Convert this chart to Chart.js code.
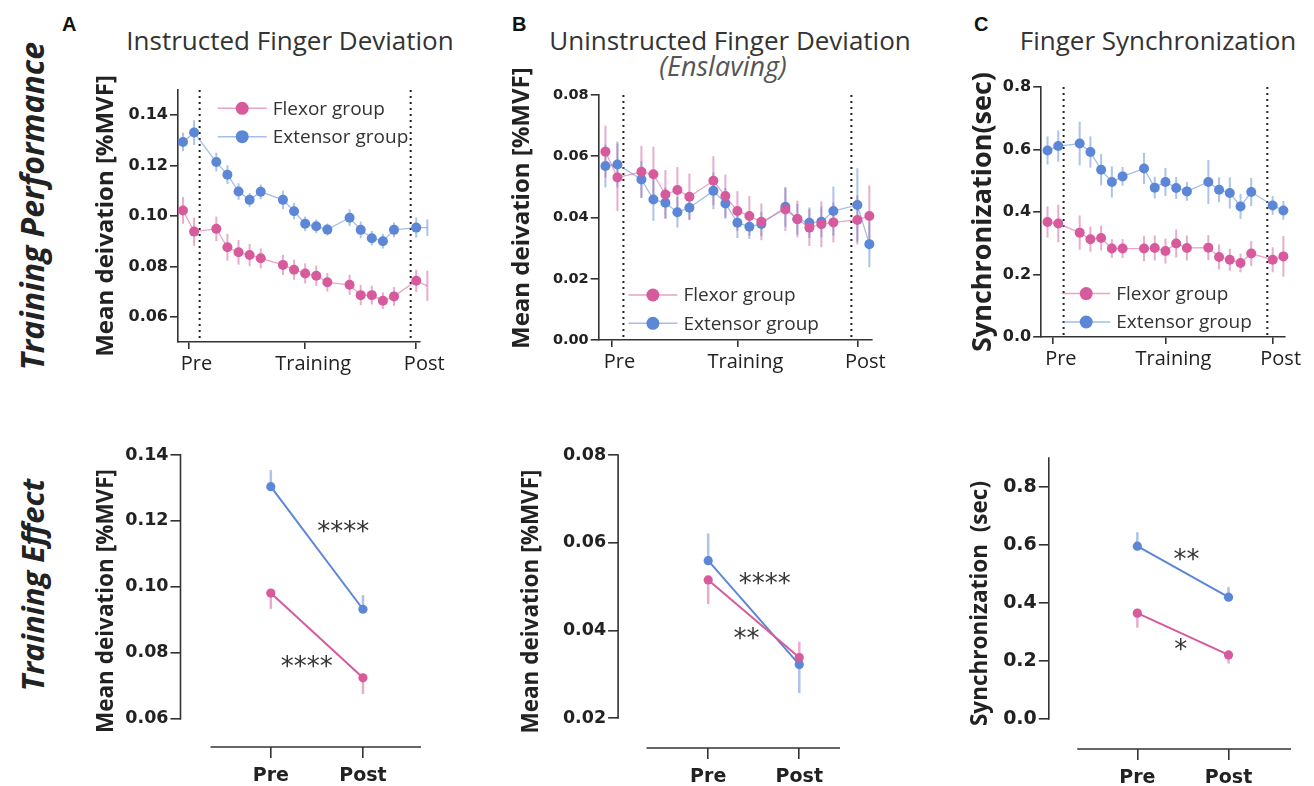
<!DOCTYPE html>
<html><head><meta charset="utf-8">
<script src="https://cdn.jsdelivr.net/npm/chart.js@4.4.1/dist/chart.umd.min.js"></script>
<style>
html,body{margin:0;padding:0;background:#fff;}
body{width:1314px;height:786px;position:relative;overflow:hidden;}
.t{position:absolute;white-space:nowrap;line-height:1;color:#333;}
.ttl{font-family:'Open Sans';font-size:26px;transform:translateX(-50%);}
.lt{font-family:'Liberation Sans';font-weight:700;font-size:20px;color:#111;}
.row{font-family:'Open Sans';font-style:italic;font-weight:700;font-size:31px;transform:translate(-50%,-50%) rotate(-90deg);color:#222;}
canvas{position:absolute;}
</style></head><body>
<div class="t lt" style="left:62px;top:14px">A</div>
<div class="t lt" style="left:512px;top:14px">B</div>
<div class="t lt" style="left:974px;top:14px">C</div>
<div class="t ttl" style="left:290px;top:27px">Instructed Finger Deviation</div>
<div class="t ttl" style="left:730px;top:27px">Uninstructed Finger Deviation</div>
<div class="t ttl" style="left:723px;top:52px;font-size:27px;font-style:italic;color:#555">(Enslaving)</div>
<div class="t ttl" style="left:1158px;top:27px">Finger Synchronization</div>
<div class="t row" style="left:32px;top:206px;font-size:32px">Training Performance</div>
<div class="t row" style="left:32px;top:585px">Training Effect</div>
<script>
// ---------- data ----------
const sessionX = [0,1,3,4,5,6,7,9,10,11,12,13,15,16,17,18,19,21,22];
const phaseTicks = [0.5, 11, 21];
const phaseLabels = ['Pre','Training','Post'];
const groupLabels = ['Flexor group','Extensor group'];

const instFlexor     = [0.1022,0.0938,0.0949,0.0876,0.0856,0.0845,0.0832,0.0806,0.0787,0.0772,0.0763,0.0737,0.0727,0.0686,0.0686,0.0664,0.0681,0.0743,0.0723];
const instFlexorErr  = [0.0053,0.0056,0.0049,0.0053,0.0049,0.0044,0.0040,0.0040,0.0040,0.0040,0.0040,0.0037,0.0040,0.0040,0.0037,0.0033,0.0037,0.0044,0.0060];
const instExtensor   = [0.1294,0.1331,0.1214,0.1164,0.1097,0.1064,0.1096,0.1064,0.1019,0.0969,0.0959,0.0946,0.0993,0.0945,0.0912,0.0900,0.0945,0.0954,0.0954];
const instExtensorErr= [0.0037,0.0049,0.0037,0.0037,0.0033,0.0027,0.0029,0.0037,0.0033,0.0029,0.0027,0.0024,0.0033,0.0033,0.0029,0.0029,0.0029,0.0040,0.0033];

const enslFlexor     = [0.0615,0.0531,0.0549,0.0541,0.0475,0.0490,0.0468,0.0520,0.0470,0.0421,0.0405,0.0386,0.0426,0.0395,0.0367,0.0378,0.0384,0.0392,0.0405];
const enslFlexorErr  = [0.0085,0.0110,0.0085,0.0090,0.0080,0.0075,0.0075,0.0080,0.0070,0.0065,0.0065,0.0060,0.0070,0.0060,0.0060,0.0075,0.0065,0.0080,0.0100];
const enslExtensor   = [0.0568,0.0573,0.0524,0.0459,0.0448,0.0417,0.0432,0.0487,0.0446,0.0383,0.0370,0.0379,0.0435,0.0394,0.0383,0.0386,0.0421,0.0441,0.0313];
const enslExtensorErr= [0.0070,0.0075,0.0060,0.0070,0.0050,0.0050,0.0040,0.0060,0.0050,0.0050,0.0040,0.0040,0.0065,0.0050,0.0050,0.0050,0.0080,0.0120,0.0075];

const syncFlexor     = [0.368,0.363,0.334,0.313,0.317,0.283,0.283,0.283,0.285,0.275,0.299,0.285,0.286,0.256,0.247,0.237,0.267,0.247,0.258];
const syncFlexorErr  = [0.050,0.060,0.055,0.040,0.040,0.030,0.030,0.040,0.040,0.040,0.045,0.040,0.040,0.040,0.035,0.030,0.040,0.040,0.065];
const syncExtensor   = [0.597,0.611,0.619,0.592,0.535,0.496,0.514,0.539,0.478,0.496,0.477,0.466,0.496,0.471,0.461,0.418,0.464,0.421,0.405];
const syncExtensorErr= [0.045,0.050,0.070,0.050,0.050,0.050,0.030,0.050,0.035,0.045,0.035,0.030,0.070,0.040,0.050,0.040,0.045,0.030,0.030];

const effectX = [0, 1];
const effectLabels = ['Pre','Post'];
const effInstFlexor = [0.0981, 0.0724];     const effInstFlexorLow = [0.0048, 0.0049];  const effInstFlexorHigh = [0, 0];
const effInstExtensor = [0.1304, 0.0932];   const effInstExtensorLow = [0, 0];          const effInstExtensorHigh = [0.0050, 0.0043];
const effEnslFlexor = [0.0515, 0.0338];     const effEnslFlexorLow = [0.0055, 0];       const effEnslFlexorHigh = [0, 0.0036];
const effEnslExtensor = [0.0559, 0.0322];   const effEnslExtensorLow = [0, 0.0065];     const effEnslExtensorHigh = [0.0062, 0];
const effSyncFlexor = [0.365, 0.221];       const effSyncFlexorLow = [0.050, 0.030];    const effSyncFlexorHigh = [0, 0];
const effSyncExtensor = [0.596, 0.420];     const effSyncExtensorLow = [0, 0];          const effSyncExtensorHigh = [0.048, 0.035];

const instTicks = [0.06,0.08,0.10,0.12,0.14];
const enslTicks = [0.00,0.02,0.04,0.06,0.08];
const enslEffTicks = [0.02,0.04,0.06,0.08];
const syncTicks = [0.0,0.2,0.4,0.6,0.8];

// ---------- style ----------
const PINK = '#d65a9c', BLUE = '#5b87d6';
const PINK_L = 'rgba(214,90,156,0.55)', BLUE_L = 'rgba(91,135,214,0.55)';
const PINK_E = 'rgba(214,90,156,0.5)', BLUE_E = 'rgba(91,135,214,0.5)';
const AXIS = '#333';

const decor = {
  id: 'decor',
  beforeDatasetsDraw(chart, args, o) {
    const ctx = chart.ctx, xs = chart.scales.x, ys = chart.scales.y, ca = chart.chartArea;
    ctx.save();
    (o.vlines || []).forEach(v => {
      const px = xs.getPixelForValue(v);
      ctx.strokeStyle = '#222'; ctx.lineWidth = 2; ctx.setLineDash([2, 4]);
      ctx.beginPath(); ctx.moveTo(px, ca.top); ctx.lineTo(px, ca.bottom); ctx.stroke();
    });
    ctx.setLineDash([]);
    ctx.strokeStyle = AXIS; ctx.lineWidth = 1.6;
    if (o.yLine) {
      ctx.beginPath();
      ctx.moveTo(ca.left, ys.getPixelForValue(o.yLine[0]) + 0.8);
      ctx.lineTo(ca.left, ys.getPixelForValue(o.yLine[1]) - 0.8);
      ctx.stroke();
    }
    if (o.xLine) {
      ctx.beginPath();
      ctx.moveTo(xs.getPixelForValue(o.xLine[0]), ca.bottom);
      ctx.lineTo(xs.getPixelForValue(o.xLine[1]), ca.bottom);
      ctx.stroke();
    }
    (o.errors || []).forEach((e, i) => {
      const ds = chart.data.datasets[i];
      ctx.strokeStyle = e.color; ctx.lineWidth = e.width;
      ds.data.forEach((p, j) => {
        const lo = e.low[j], hi = e.high[j];
        if (!lo && !hi) return;
        const x = xs.getPixelForValue(p.x);
        ctx.beginPath();
        ctx.moveTo(x, ys.getPixelForValue(p.y - lo));
        ctx.lineTo(x, ys.getPixelForValue(p.y + hi));
        ctx.stroke();
      });
    });
    ctx.restore();
  },
  afterDatasetsDraw(chart, args, o) {
    const ctx = chart.ctx, xs = chart.scales.x, ys = chart.scales.y;
    ctx.save();
    if (o.legend) {
      const L = o.legend;
      chart.data.datasets.forEach((ds, i) => {
        const y = L.y + i * L.gap;
        ctx.strokeStyle = ds.borderColor; ctx.lineWidth = 1.5;
        ctx.beginPath(); ctx.moveTo(L.x, y); ctx.lineTo(L.x + L.len, y); ctx.stroke();
        ctx.fillStyle = ds.backgroundColor;
        ctx.beginPath(); ctx.arc(L.x + L.len / 2, y, L.r, 0, Math.PI * 2); ctx.fill();
        ctx.fillStyle = '#333'; ctx.font = L.font; ctx.textBaseline = 'middle'; ctx.textAlign = 'left';
        ctx.fillText(ds.label, L.x + L.len + 6, y + 1);
      });
    }
    (o.stars || []).forEach(s => {
      ctx.fillStyle = '#333'; ctx.font = '26px "DejaVu Sans"';
      ctx.textAlign = 'center'; ctx.textBaseline = 'middle';
      ctx.fillText(s.text, xs.getPixelForValue(s.x), ys.getPixelForValue(s.y) + 5.5);
    });
    ctx.restore();
  }
};

function makeChart(c) {
  const lh = c.titleSize * 1.2;
  const left = c.titleCX - lh / 2;
  const yW = c.area.L - left;
  const padT = c.padT, padR = c.padR;
  const top = c.area.T - padT;
  const width = Math.round(c.area.R + padR - left);
  const height = Math.round(c.area.B + c.xH - top);
  const cv = document.createElement('canvas');
  cv.width = width; cv.height = height;
  cv.style.left = left + 'px'; cv.style.top = top + 'px';
  cv.style.width = width + 'px'; cv.style.height = height + 'px';
  document.body.appendChild(cv);
  const shift = (pt) => ({ x: pt.x - left, y: pt.y - top });
  const plug = { vlines: c.vlines, yLine: c.yLine, xLine: c.xLine, errors: c.errors, stars: c.stars };
  if (c.legend) {
    const p = shift(c.legend);
    plug.legend = { x: p.x, y: p.y, gap: c.legend.gap, len: c.legend.len, r: c.legend.r, font: c.legend.font };
  }
  new Chart(cv, {
    type: 'line',
    data: { datasets: c.datasets },
    options: {
      responsive: false, animation: false, devicePixelRatio: 1,
      layout: { padding: { left: 0, top: padT, right: padR, bottom: 0 } },
      plugins: { legend: { display: false }, tooltip: { enabled: false }, decor: plug },
      scales: {
        x: {
          type: 'linear', min: c.xMin, max: c.xMax,
          afterFit: s => { s.height = c.xH; },
          afterBuildTicks: s => { s.ticks = c.xTicks.map(v => ({ value: v })); },
          ticks: { callback: (v, i) => c.xLabels[i], color: '#222', font: c.xFont, padding: c.xPad,
                   labelOffset: c.xLabelOffset, maxRotation: 0, autoSkip: false },
          grid: { drawOnChartArea: false, drawTicks: true, tickLength: c.xTickLen, color: AXIS, lineWidth: 1.6 },
          border: { display: !c.xLine, color: AXIS, width: 1.6 }
        },
        y: {
          type: 'linear', min: c.yMin, max: c.yMax,
          afterFit: s => { s.width = yW; },
          afterBuildTicks: s => { s.ticks = c.yTicks.map(v => ({ value: v })); },
          ticks: { callback: v => v.toFixed(c.dec), color: '#222', font: c.yFont, padding: 2 },
          grid: { drawOnChartArea: false, drawTicks: true, tickLength: c.yTickLen, color: AXIS, lineWidth: 1.6 },
          border: { display: !c.yLine, color: AXIS, width: 1.6 },
          title: { display: true, text: c.yTitle, color: '#222', padding: { top: 0, bottom: 0 },
                   font: { family: 'Open Sans', size: c.titleSize, weight: c.titleWeight } }
        }
      }
    },
    plugins: [decor]
  });
}

function topDatasets(f, fe, e, ee) {
  const mk = (vals, label, col, lcol) => ({
    label, data: sessionX.map((x, i) => ({ x, y: vals[i] })),
    borderColor: lcol, backgroundColor: col, borderWidth: 1.3,
    pointRadius: 5, pointBorderWidth: 0, pointBackgroundColor: col, tension: 0, clip: false
  });
  return {
    datasets: [mk(f, groupLabels[0], PINK, PINK_L), mk(e, groupLabels[1], BLUE, BLUE_L)],
    errors: [{ low: fe, high: fe, color: PINK_E, width: 2 }, { low: ee, high: ee, color: BLUE_E, width: 2 }]
  };
}
function effDatasets(f, fl, fh, e, el, eh) {
  const mk = (vals, label, col) => ({
    label, data: effectX.map((x, i) => ({ x, y: vals[i] })),
    borderColor: col, backgroundColor: col, borderWidth: 2,
    pointRadius: 4.6, pointBorderWidth: 0, pointBackgroundColor: col, tension: 0, clip: false
  });
  return {
    datasets: [mk(f, groupLabels[0], PINK), mk(e, groupLabels[1], BLUE)],
    errors: [{ low: fl, high: fh, color: PINK_E, width: 2.5 }, { low: el, high: eh, color: BLUE_E, width: 2.5 }]
  };
}

const topCommon = {
  padT: 32, padR: 28, xH: 44, xTicks: phaseTicks, xLabels: phaseLabels, xFont: { family: 'Open Sans', size: 20 }, xPad: 3, xTickLen: 7,
  xLabelOffset: 8, yTickLen: 8, vlines: [1.5, 20.5], titleSize: 24, titleWeight: 700
};
const botCommon = {
  padT: 14, padR: 14, xH: 38, xTicks: effectX, xLabels: effectLabels, xFont: { family: 'DejaVu Sans', size: 19, weight: 700 }, xPad: 7, xTickLen: 11,
  xLabelOffset: 0, yTickLen: 10, titleSize: 22.5, titleWeight: 700
};
const legendFont = '19px "Open Sans"';

// Top A
let d = topDatasets(instFlexor, instFlexorErr, instExtensor, instExtensorErr);
makeChart(Object.assign({}, topCommon, {
  area: { L: 178.3, T: 90, R: 420, B: 341.7 }, titleCX: 106.7, yTitle: 'Mean deivation [%MVF]',
  xMin: -0.45, xMax: 21.34, yMin: 0.05, yMax: 0.15, yTicks: instTicks, dec: 2,
  yFont: { family: 'DejaVu Sans', size: 16, weight: 700 },
  datasets: d.datasets, errors: d.errors,
  legend: { x: 218, y: 108.3, gap: 28.4, len: 49, r: 6.5, font: legendFont }
}));
// Top B
d = topDatasets(enslFlexor, enslFlexorErr, enslExtensor, enslExtensorErr);
makeChart(Object.assign({}, topCommon, {
  area: { L: 598.3, T: 95, R: 871.7, B: 340 }, titleCX: 522, yTitle: '   Mean deivation [%MVF]',
  xMin: -0.56, xMax: 22.22, yMin: 0, yMax: 0.08, yTicks: enslTicks, dec: 2,
  yFont: { family: 'DejaVu Sans', size: 14.5, weight: 700 },
  datasets: d.datasets, errors: d.errors,
  legend: { x: 628, y: 295, gap: 28.3, len: 49, r: 6.5, font: legendFont }
}));
// Top C
d = topDatasets(syncFlexor, syncFlexorErr, syncExtensor, syncExtensorErr);
makeChart(Object.assign({}, topCommon, {
  area: { L: 1041, T: 86.7, R: 1285, B: 336.7 }, titleCX: 983, yTitle: 'Synchronization(sec)', titleSize: 27,
  xMin: -0.59, xMax: 22.15, yMin: 0, yMax: 0.8, yTicks: syncTicks, dec: 1,
  yFont: { family: 'DejaVu Sans', size: 16, weight: 700 },
  datasets: d.datasets, errors: d.errors,
  legend: { x: 1062, y: 293.3, gap: 28.4, len: 48, r: 6.5, font: legendFont }
}));
// Bottom A
d = effDatasets(effInstFlexor, effInstFlexorLow, effInstFlexorHigh, effInstExtensor, effInstExtensorLow, effInstExtensorHigh);
makeChart(Object.assign({}, botCommon, {
  area: { L: 180, T: 455, R: 420, B: 746.7 }, titleCX: 106, yTitle: 'Mean deivation [%MVF]',
  xMin: -0.98, xMax: 1.63, yMin: 0.0514, yMax: 0.14, yTicks: instTicks, dec: 2,
  yFont: { family: 'DejaVu Sans', size: 17.5, weight: 700 },
  yLine: [0.06, 0.14], xLine: [-0.654, 1.63],
  datasets: d.datasets, errors: d.errors,
  stars: [{ x: 0.785, y: 0.1178, text: '****' }, { x: 0.39, y: 0.0771, text: '****' }]
}));
// Bottom B
d = effDatasets(effEnslFlexor, effEnslFlexorLow, effEnslFlexorHigh, effEnslExtensor, effEnslExtensorLow, effEnslExtensorHigh);
makeChart(Object.assign({}, botCommon, {
  area: { L: 618.3, T: 455, R: 840, B: 748.3 }, titleCX: 531.7, yTitle: 'Mean deivation [%MVF]',
  xMin: -0.989, xMax: 1.447, yMin: 0.01317, yMax: 0.08, yTicks: enslEffTicks, dec: 2,
  yFont: { family: 'DejaVu Sans', size: 17.5, weight: 700 },
  yLine: [0.02, 0.08], xLine: [-0.677, 1.447],
  datasets: d.datasets, errors: d.errors,
  stars: [{ x: 0.62, y: 0.0515, text: '****' }, { x: 0.42, y: 0.039, text: '**' }]
}));
// Bottom C
d = effDatasets(effSyncFlexor, effSyncFlexorLow, effSyncFlexorHigh, effSyncExtensor, effSyncExtensorLow, effSyncExtensorHigh);
makeChart(Object.assign({}, botCommon, {
  area: { L: 1048.3, T: 457.7, R: 1290, B: 748.3 }, titleCX: 980, yTitle: 'Synchronization  (sec)',
  xMin: -0.971, xMax: 1.685, yMin: -0.1036, yMax: 0.9, yTicks: syncTicks, dec: 1,
  yFont: { family: 'DejaVu Sans', size: 19, weight: 700 },
  yLine: [0, 0.9], xLine: [-0.659, 1.685],
  datasets: d.datasets, errors: d.errors,
  stars: [{ x: 0.54, y: 0.564, text: '**' }, { x: 0.476, y: 0.253, text: '*' }]
}));
</script>
</body></html>
